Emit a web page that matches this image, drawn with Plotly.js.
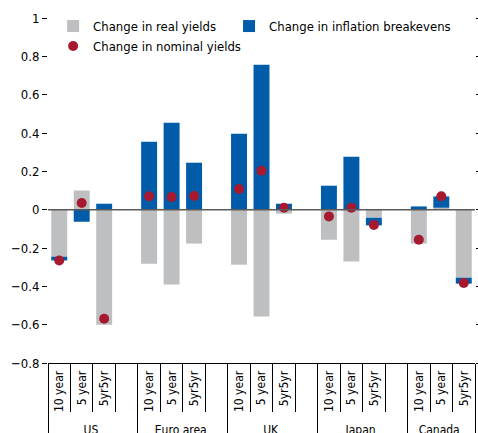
<!DOCTYPE html>
<html>
<head>
<meta charset="utf-8">
<script src="https://cdn.plot.ly/plotly-3.0.1.min.js"></script>
<style>
  html, body { margin: 0; padding: 0; background: #fff; }
  #chart { width: 478px; height: 433px; }
</style>
</head>
<body>
<div id="chart"></div>
<script>
// Data
const regions = ["US", "Euro area", "UK", "Japan", "Canada"];
const maturities = ["10 year", "5 year", "5yr5yr"];
// per region, in maturity order
const realYields  = [-0.245, 0.100, -0.600,  -0.282, -0.391, -0.177,  -0.287, -0.558, -0.021,  -0.157, -0.271, -0.042,  -0.177, 0.010, -0.355];
const breakevens  = [-0.020, -0.063, 0.031,   0.355, 0.454, 0.245,    0.396, 0.756, 0.031,     0.125, 0.276, -0.040,    0.017, 0.059, -0.031];
const nominal     = [-0.265, 0.035, -0.569,   0.070, 0.066, 0.071,    0.108, 0.203, 0.010,    -0.035, 0.010, -0.080,   -0.157, 0.070, -0.383];
const yTickVals = [-0.8, -0.6, -0.4, -0.2, 0, 0.2, 0.4, 0.6, 0.8, 1];

// Build multicategory x with a blank spacer slot after each region except the last
const xOuter = [], xInner = [], yReal = [], yBreak = [], yNom = [];
regions.forEach((r, gi) => {
  maturities.forEach((m, mi) => {
    const k = gi * maturities.length + mi;
    xOuter.push(r); xInner.push(m);
    yReal.push(realYields[k]); yBreak.push(breakevens[k]); yNom.push(nominal[k]);
  });
  if (gi < regions.length - 1) {
    xOuter.push(r); xInner.push(" ");
    yReal.push(null); yBreak.push(null); yNom.push(null);
  }
});
const nSlots = xOuter.length;

const FONT = "'Liberation Sans Narrow', 'DejaVu Sans Condensed', 'Arial Narrow', sans-serif";

const traces = [
  { type: "bar", name: "Change in real yields", x: [xOuter, xInner], y: yReal,
    marker: { color: "#bebfc1" }, hoverinfo: "skip", legend: "legend" },
  { type: "bar", name: "Change in inflation breakevens", x: [xOuter, xInner], y: yBreak,
    marker: { color: "#005ba9" }, hoverinfo: "skip", legend: "legend2" },
  { type: "scatter", mode: "markers", name: "Change in nominal yields", x: [xOuter, xInner], y: yNom,
    marker: { color: "#a6192e", size: 10 }, hoverinfo: "skip", legend: "legend" }
];

const legendCommon = {
  orientation: "v", y: 1.02, xanchor: "left", yanchor: "top",
  font: { family: FONT, size: 13, color: "#000" },
  bgcolor: "rgba(0,0,0,0)", tracegroupgap: 0, traceorder: "normal"
};

const layout = {
  width: 478, height: 433,
  margin: { l: 48, r: 3, t: 18, b: 70 },
  paper_bgcolor: "#fff", plot_bgcolor: "#fff",
  font: { family: FONT, size: 13, color: "#000" },
  barmode: "relative",
  bargap: 0.29,
  showlegend: true,
  legend: Object.assign({}, legendCommon, { x: 0.012 }),
  legend2: Object.assign({}, legendCommon, { x: 0.424 }),
  xaxis: {
    type: "multicategory",
    range: [-0.5, nSlots - 0.5],
    showline: true, linecolor: "#000", linewidth: 1,
    ticks: "outside", tickson: "boundaries", ticklen: 48, tickcolor: "#000", tickwidth: 1,
    tickangle: -90,
    ticklabelstandoff: 2,
    showdividers: true, dividercolor: "#000", dividerwidth: 1,
    tickfont: { family: FONT, size: 12, color: "#000" },
    showgrid: false, zeroline: false
  },
  yaxis: {
    range: [-0.8, 1],
    tickvals: yTickVals,
    ticks: "outside", ticklen: 5, tickcolor: "#000", tickwidth: 1,
    mirror: "ticks", showline: false,
    showgrid: false, zeroline: false,
    tickfont: { family: FONT, size: 13, color: "#000" }
  },
  shapes: [
    { type: "line", xref: "paper", x0: 0, x1: 1, yref: "y", y0: 0, y1: 0,
      line: { color: "#5a5a5a", width: 1.5 }, layer: "above" }
  ]
};

Plotly.newPlot("chart", traces, layout, { displayModeBar: false, staticPlot: true });
</script>
</body>
</html>
